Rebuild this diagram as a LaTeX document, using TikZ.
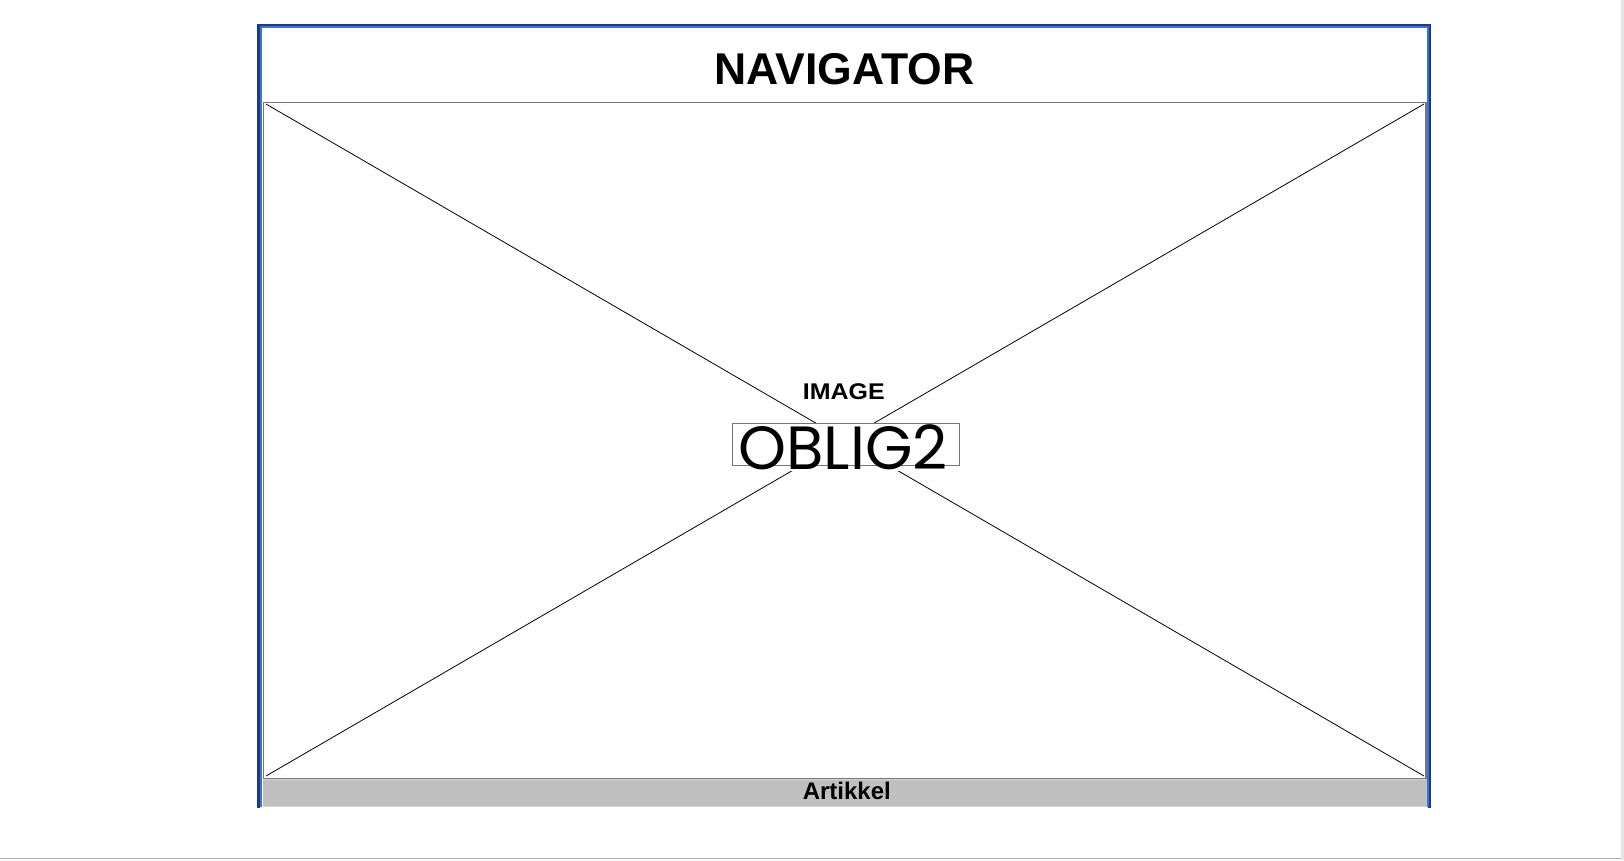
\documentclass[tikz,border=0pt]{standalone}
\usepackage{fontspec}
\setmainfont{Liberation Sans}
\newfontfamily\obligfont{Poppins}
\definecolor{framedark}{HTML}{1B3A8E}
\definecolor{framelight}{HTML}{3F74C8}
\definecolor{boxgray}{HTML}{767676}
\definecolor{bargray}{HTML}{C0C0C0}
\definecolor{barlight}{HTML}{D6D6D6}
\definecolor{pagegray}{HTML}{E4E4E4}
\definecolor{pageline}{HTML}{ADADAD}
\tikzset{
  title/.style={font=\bfseries\fontsize{44.5}{44.5}\selectfont, anchor=base, inner sep=0pt},
  imglabel/.style={font=\bfseries\addfontfeature{FakeStretch=1.1}\fontsize{22.7}{22.7}\selectfont, anchor=base, inner sep=0pt},
  barlabel/.style={font=\bfseries\fontsize{24}{24}\selectfont, anchor=base, inner sep=0pt},
  obligtext/.style={font=\obligfont\fontsize{61}{61}\selectfont, anchor=base, inner sep=0pt},
  diag/.style={draw=black, line width=0.8pt},
}
\begin{document}
\begin{tikzpicture}[x=1pt,y=-1pt]
\useasboundingbox (0,0) rectangle (1624,860);
\fill[white] (0,0) rectangle (1624,860);
% page edges
\fill[pagegray] (1621,0) rectangle (1623.5,860);
\draw[pageline, line width=1.5pt] (0,858.6) -- (1621,858.6);
% outer frame (open at the bottom)
\draw[framedark, line width=3pt] (258.5,807.7) -- (258.5,25) -- (1429.6,25) -- (1429.6,807.7);
\draw[framelight, line width=2pt] (261.2,806.5) -- (261.2,27.3) -- (1427.8,27.3) -- (1427.8,806.5);
% image placeholder
\coordinate (tl) at (266,104);
\coordinate (tr) at (1424,104);
\coordinate (bl) at (266,776);
\coordinate (br) at (1424,776);
\node[draw=boxgray, line width=1.4pt, minimum width=1162.6pt, minimum height=675.8pt, inner sep=0pt] (img) at (844.75,440.5) {};
\draw[diag] (tl) -- (br);
\draw[diag] (tr) -- (bl);
% bottom bar
\node[fill=bargray, minimum width=1163.5pt, minimum height=28pt, inner sep=0pt] (bar) at (844.75,793) {};
\draw[barlight, line width=1pt] (bar.north west) ++(0,0.5) -- ++(1163.5,0);
\draw[barlight, line width=1pt] (bar.south west) ++(0,-0.5) -- ++(1163.5,0);
% texts
\node[title] (nav) at (844.5,84.5) {NAVIGATOR};
\node[imglabel] (imglab) at (843.8,399.3) {IMAGE};
\fill[white] (788,465) rectangle (902,470.5);
\node[draw=boxgray, fill=white, line width=1pt, minimum width=227pt, minimum height=42.4pt, inner sep=0pt] (obligbox) at (845.8,444.5) {};
\node[obligtext] (oblig) at (843,469) {OBLIG2};
\node[barlabel] (art) at (846.8,799.3) {Artikkel};
\end{tikzpicture}
\end{document}
